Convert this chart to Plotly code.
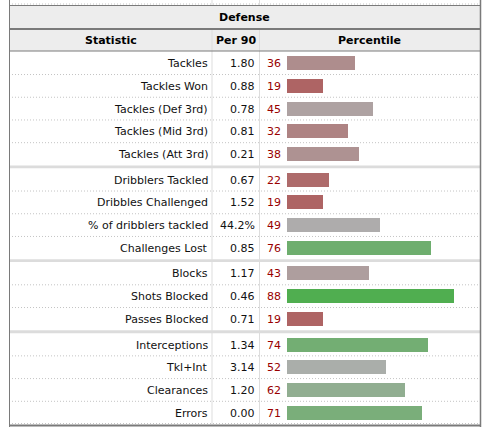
import plotly.graph_objects as go

# ---------------- data ----------------
title = "Defense"
headers = ["Statistic", "Per 90", "Percentile"]
stat_groups = [
    ["Tackles", "Tackles Won", "Tackles (Def 3rd)", "Tackles (Mid 3rd)", "Tackles (Att 3rd)"],
    ["Dribblers Tackled", "Dribbles Challenged", "% of dribblers tackled", "Challenges Lost"],
    ["Blocks", "Shots Blocked", "Passes Blocked"],
    ["Interceptions", "Tkl+Int", "Clearances", "Errors"],
]
per90 = ["1.80", "0.88", "0.78", "0.81", "0.21",
         "0.67", "1.52", "44.2%", "0.85",
         "1.17", "0.46", "0.71",
         "1.34", "3.14", "1.20", "0.00"]
percentile = [36, 19, 45, 32, 38,
              22, 19, 49, 76,
              43, 88, 19,
              74, 52, 62, 71]

# ---------------- layout geometry (pixels) ----------------
W, H = 483, 427
LEFT, RIGHT = 9, 480
COL1, COL2 = 212, 259.5
HDR1_TOP, HDR1_BOT = 5, 28
HDR2_TOP, HDR2_BOT = 30, 51
BODY_TOP = 51.8
ROW_H = 22.72
SEP = 2.9
BAR_X0, BAR_X1 = 287, 477
BAR_H = 14
FONT = "DejaVu Sans, Verdana, sans-serif"
BORDER = "#7a7a7a"
HDR_BG = "#ededed"
DOT = dict(color="#c4c4c4", width=1, dash="1px,2px")


def bar_color(p):
    if p < 50:
        v = round(100 + (p - 19) * 2.4)
        v = max(60, min(172, v))
        return f"rgb(174,{v},{v})"
    v = round(170 - (p - 52) * 2.5)
    v = max(70, min(172, v))
    return f"rgb({v},174,{v})"


labels = [s for g in stat_groups for s in g]

# compute row centres / separators
row_centers = []
row_lines = []   # dotted
group_bands = []  # (y0, y1)
y = BODY_TOP
for gi, g in enumerate(stat_groups):
    if gi > 0:
        group_bands.append((y, y + SEP))
        y += SEP
    for ri, _ in enumerate(g):
        row_centers.append(y + ROW_H / 2)
        y += ROW_H
        if ri < len(g) - 1:
            row_lines.append(y)
BODY_BOT = y

shapes = []
# header backgrounds
shapes.append(dict(type="rect", xref="x", yref="y", x0=LEFT, x1=RIGHT, y0=HDR1_TOP, y1=HDR1_BOT,
                   fillcolor=HDR_BG, line_width=0, layer="below"))
shapes.append(dict(type="rect", xref="x", yref="y", x0=LEFT, x1=RIGHT, y0=HDR2_TOP, y1=HDR2_BOT,
                   fillcolor=HDR_BG, line_width=0, layer="below"))
# partial previous row at top (dotted + column lines)
shapes.append(dict(type="line", xref="x", yref="y", x0=LEFT, x1=RIGHT, y0=4, y1=4, line=DOT))
for cx in (COL1, COL2):
    shapes.append(dict(type="line", xref="x", yref="y", x0=cx, x1=cx, y0=0, y1=5,
                       line=dict(color="#dddddd", width=1)))
    shapes.append(dict(type="line", xref="x", yref="y", x0=cx, x1=cx, y0=HDR2_TOP, y1=BODY_BOT,
                       line=dict(color="#dddddd", width=1)))
# dotted row separators
for ly in row_lines + [BODY_BOT - 0.5]:
    shapes.append(dict(type="line", xref="x", yref="y", x0=LEFT, x1=RIGHT, y0=ly, y1=ly, line=DOT))
# group bands
for (b0, b1) in group_bands:
    shapes.append(dict(type="rect", xref="x", yref="y", x0=LEFT, x1=RIGHT, y0=b0, y1=b1,
                       fillcolor="#dcdcdc", line_width=0))
# dark borders
for by, bw in ((HDR1_TOP + 0.5, 1), (HDR1_BOT + 1, 2), (HDR2_BOT, 1), (BODY_BOT + 1.5, 2)):
    shapes.append(dict(type="line", xref="x", yref="y", x0=LEFT, x1=RIGHT + 0.5, y0=by, y1=by,
                       line=dict(color=BORDER, width=bw)))
shapes.append(dict(type="line", xref="x", yref="y", x0=LEFT + 0.5, x1=LEFT + 0.5, y0=0, y1=H,
                   line=dict(color=BORDER, width=1)))
shapes.append(dict(type="line", xref="x", yref="y", x0=RIGHT + 0.5, x1=RIGHT + 0.5, y0=0, y1=H,
                   line=dict(color=BORDER, width=1.5)))

annotations = []
annotations.append(dict(x=(LEFT + RIGHT) / 2, y=(HDR1_TOP + HDR1_BOT) / 2 + 0.5, text="<b>" + title + "</b>",
                        xref="x", yref="y", showarrow=False, xanchor="center", yanchor="middle",
                        font=dict(family=FONT, size=11, color="#000")))
col_centers = [(LEFT + COL1) / 2, (COL1 + COL2) / 2, (COL2 + RIGHT) / 2]
for hx, ht in zip(col_centers, headers):
    annotations.append(dict(x=hx, y=(HDR2_TOP + HDR2_BOT) / 2, text="<b>" + ht + "</b>",
                            xref="x", yref="y", showarrow=False, xanchor="center", yanchor="middle",
                            font=dict(family=FONT, size=11, color="#000")))
for yc, lab, val, p in zip(row_centers, labels, per90, percentile):
    annotations.append(dict(x=COL1 - 2, y=yc + 0.5, text=lab, xref="x", yref="y", showarrow=False,
                            xanchor="right", yanchor="middle",
                            font=dict(family=FONT, size=11, color="#111")))
    annotations.append(dict(x=COL2 - 3, y=yc + 0.5, text=val, xref="x", yref="y", showarrow=False,
                            xanchor="right", yanchor="middle",
                            font=dict(family=FONT, size=11, color="#111")))
    annotations.append(dict(x=BAR_X0 - 4, y=yc + 0.5, text=str(p), xref="x", yref="y", showarrow=False,
                            xanchor="right", yanchor="middle",
                            font=dict(family=FONT, size=11, color="#990000")))

fig = go.Figure()
fig.add_trace(go.Bar(
    x=percentile, y=row_centers, orientation="h", xaxis="x2", yaxis="y",
    width=BAR_H, marker=dict(color=[bar_color(p) for p in percentile], line_width=0),
    hoverinfo="skip", showlegend=False,
))

fig.update_layout(
    width=W, height=H, margin=dict(l=0, r=0, t=0, b=0, autoexpand=False),
    paper_bgcolor="white", plot_bgcolor="rgba(0,0,0,0)",
    xaxis=dict(range=[0, W], domain=[0, 1], visible=False, fixedrange=True),
    xaxis2=dict(range=[0, 100], domain=[BAR_X0 / W, BAR_X1 / W], visible=False,
                anchor="y", fixedrange=True),
    yaxis=dict(range=[H, 0], domain=[0, 1], visible=False, fixedrange=True),
    shapes=shapes, annotations=annotations,
    bargap=0,
)

fig.write_html(
    "out.html",
    config={"displayModeBar": False},
    post_script="document.body.style.margin='0';document.body.style.overflow='hidden';",
)
